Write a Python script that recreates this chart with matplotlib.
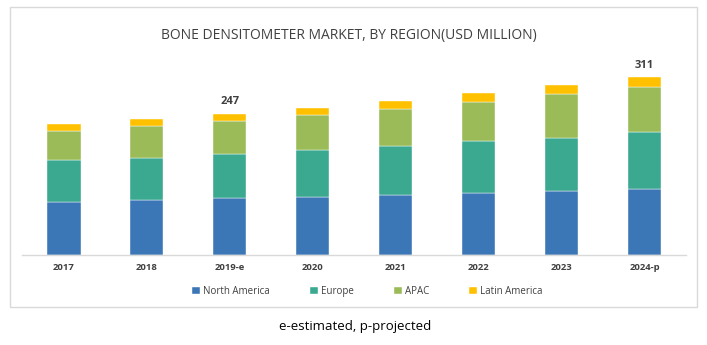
import numpy as np
import matplotlib.pyplot as plt
from matplotlib.patches import Rectangle

years = ["2017", "2018", "2019-e", "2020", "2021", "2022", "2023", "2024-p"]
north_america = [92.1, 95.6, 99.1, 101.9, 104.4, 107.9, 111.3, 114.8]
europe = [73.9, 74.5, 78.0, 81.1, 86.7, 90.9, 93.7, 99.6]
apac = [51.2, 55.9, 57.7, 62.2, 64.7, 69.2, 75.9, 79.6]
latin_america = [11.2, 11.7, 12.2, 12.2, 14.0, 14.7, 15.7, 17.0]
labelled = {"2019-e": 247, "2024-p": 311}

regions = ["North America", "Europe", "APAC", "Latin America"]
colors = ["#3b77b7", "#3aa98f", "#9bbb59", "#ffc000"]
text_color = "#404040"

fig = plt.figure(figsize=(7.07, 3.45), dpi=100)
ax = fig.add_axes([0.0318, 0.2609, 0.9385, 0.5638])

x = np.arange(len(years))
bottom = np.zeros(len(years))
handles = []
for name, vals, c in zip(regions, [north_america, europe, apac, latin_america], colors):
    h = ax.bar(x, vals, width=0.4, bottom=bottom, color=c, edgecolor="white",
               linewidth=0.3, label=name)
    handles.append(h)
    bottom += np.array(vals)

for i, yr in enumerate(years):
    if yr in labelled:
        ax.text(x[i], labelled[yr] + 21, str(labelled[yr]), ha="center", va="center",
                fontsize=8, fontweight="bold", color=text_color, family="Open Sans")

ax.set_xlim(-0.5, len(years) - 0.5)
ax.set_ylim(0, 340)
ax.set_xticks(x)
ax.set_xticklabels(years, fontsize=6.8, fontweight="bold", color=text_color, family="Open Sans")
ax.tick_params(axis="x", length=0, pad=6)
ax.set_yticks([])
for s in ["top", "right", "left"]:
    ax.spines[s].set_visible(False)
ax.spines["bottom"].set_color("#d9d9d9")
ax.spines["bottom"].set_linewidth(1)

fig.text(0.494, 0.896, "BONE DENSITOMETER MARKET, BY REGION(USD MILLION)", ha="center",
         va="center", fontsize=10, color=text_color, family="Open Sans")

leg = fig.legend(handles=handles, loc="center", bbox_to_anchor=(0.52, 0.155), ncol=4,
                 frameon=False, prop={"family": "Open Sans", "size": 7},
                 handlelength=0.8, handleheight=0.8, handletextpad=0.35, columnspacing=4.1)
for t in leg.get_texts():
    t.set_color(text_color)

fig.add_artist(Rectangle((0.0141, 0.111), 0.9713, 0.8687, transform=fig.transFigure,
                         fill=False, edgecolor="#d9d9d9", linewidth=1))

fig.text(0.502, 0.055, "e-estimated, p-projected", ha="center", va="center",
         fontsize=9.5, color="black", family="Open Sans")

fig.savefig("out.png", dpi=100)
